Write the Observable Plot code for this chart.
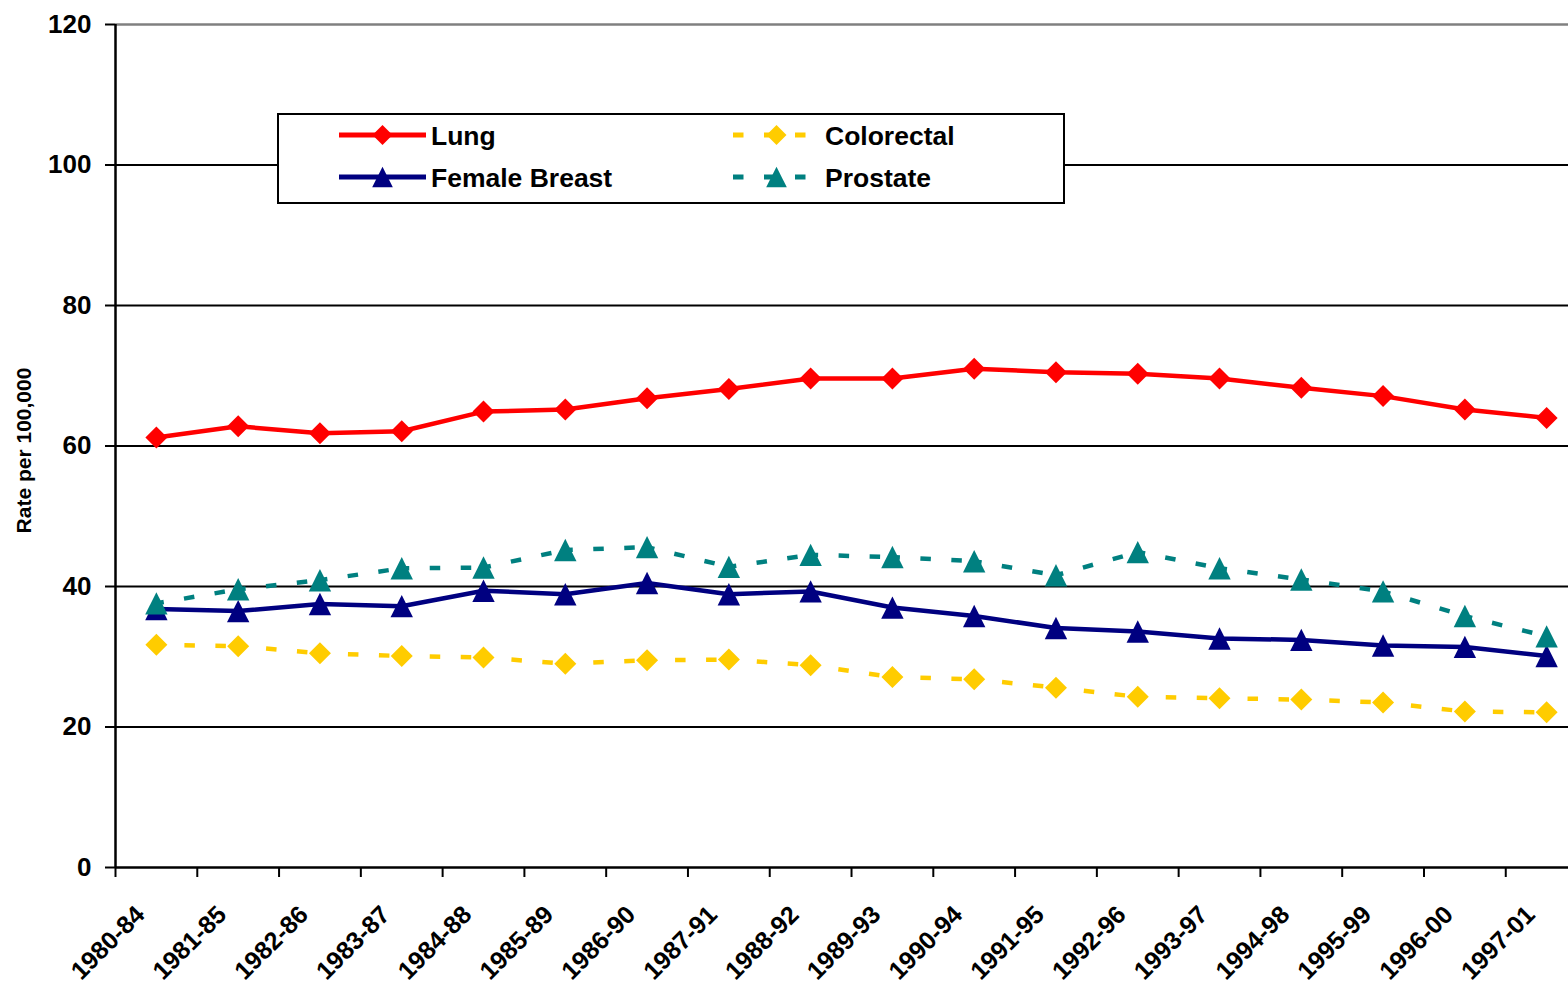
<!DOCTYPE html>
<html><head><meta charset="utf-8">
<script src="https://cdn.jsdelivr.net/npm/d3@7"></script>
<script src="https://cdn.jsdelivr.net/npm/@observablehq/plot@0.6"></script>
<style>
html,body{margin:0;padding:0;background:#fff;}
#wrap{position:relative;width:1568px;height:984px;overflow:hidden;font-family:"Liberation Sans",Arial,sans-serif;}
#wrap svg{overflow:hidden;}
#legend{position:absolute;left:277px;top:113px;}
</style></head><body><div id="wrap"></div>
<script>
const periods = ["1980-84","1981-85","1982-86","1983-87","1984-88","1985-89","1986-90","1987-91","1988-92","1989-93","1990-94","1991-95","1992-96","1993-97","1994-98","1995-99","1996-00","1997-01"];
const lung       = [61.2, 62.8, 61.8, 62.1, 64.9, 65.2, 66.8, 68.1, 69.6, 69.6, 71.0, 70.5, 70.3, 69.6, 68.3, 67.1, 65.2, 64.0];
const breast     = [36.8, 36.5, 37.5, 37.2, 39.4, 38.9, 40.5, 38.9, 39.3, 37.0, 35.8, 34.1, 33.6, 32.6, 32.4, 31.6, 31.4, 30.1];
const colorectal = [31.7, 31.5, 30.5, 30.1, 29.9, 29.0, 29.5, 29.6, 28.8, 27.1, 26.8, 25.6, 24.3, 24.1, 23.9, 23.5, 22.2, 22.1];
const prostate   = [37.6, 39.6, 40.9, 42.6, 42.7, 45.2, 45.6, 42.8, 44.5, 44.2, 43.6, 41.6, 44.9, 42.6, 41.0, 39.3, 35.8, 32.9];
const seriesNames  = ["Lung", "Female Breast", "Colorectal", "Prostate"];
const seriesColors = ["#FF0000", "#000080", "#FFCC00", "#008080"];
const seriesDashed = [false, false, true, true];
const seriesSymbol = ["diamond", "triangle", "diamond", "triangle"];
const yGrid = [20, 40, 60, 80, 100];
const yTicks = [0, 20, 40, 60, 80, 100, 120];
const yTitle = "Rate per 100,000";

const symbols = {
  diamond: {draw(ctx, size){const h=Math.sqrt(size/Math.PI); ctx.moveTo(0,-h); ctx.lineTo(h,0); ctx.lineTo(0,h); ctx.lineTo(-h,0); ctx.closePath();}},
  triangle: {draw(ctx, size){const h=Math.sqrt(size/Math.PI); ctx.moveTo(0,-h); ctx.lineTo(h,h); ctx.lineTo(-h,h); ctx.closePath();}}
};
const symR = {diamond: 11, triangle: 11.2};
const legR = {diamond: 10, triangle: 10.3};

const allValues = [lung, breast, colorectal, prostate];
const rows = allValues.map((vals, s) => vals.map((v, i) => ({series: seriesNames[s], i, x: i + 0.5, v})));
const segs = allValues.map((vals, s) => vals.slice(0, -1).map((v, i) => ({x1: i + 0.5, y1: v, x2: i + 1.5, y2: vals[i + 1]})));

const font = '"Liberation Sans", Arial, sans-serif';
const lineMarks = [];
const dotMarks = [];
seriesNames.forEach((name, s) => {
  if (seriesDashed[s]) {
    lineMarks.push(Plot.link(segs[s], {x1: "x1", y1: "y1", x2: "x2", y2: "y2", stroke: seriesColors[s], strokeWidth: 4.5, strokeDasharray: "10.5,20.5", strokeDashoffset: 3}));
  } else {
    lineMarks.push(Plot.line(rows[s], {x: "x", y: "v", stroke: seriesColors[s], strokeWidth: 4.5, strokeLinejoin: "round"}));
  }
  const sym = seriesSymbol[s];
  dotMarks.push(Plot.dot(rows[s], {x: "x", y: "v", symbol: symbols[sym], r: symR[sym], fill: seriesColors[s], stroke: "none"}));
});

const chart = Plot.plot({
  width: 1568, height: 984,
  marginTop: 24, marginBottom: 117, marginLeft: 115, marginRight: 0,
  style: {fontFamily: font, fontSize: "26px", fontWeight: "bold", background: "white", color: "black"},
  x: {type: "linear", domain: [0, periods.length], range: [115, 115 + 81.78 * periods.length]},
  y: {domain: [0, 120]},
  marks: [
    Plot.ruleY(yGrid, {stroke: "black", strokeWidth: 2}),
    Plot.ruleY([120], {stroke: "#808080", strokeWidth: 2.5}),
    Plot.axisY(yTicks, {tickSize: 10, tickPadding: 14, stroke: "black", strokeWidth: 2, fill: "black", fontSize: 26, fontWeight: "bold", label: null}),
    Plot.axisX(d3.range(periods.length + 1), {tickSize: 10, tickFormat: () => "", stroke: "black", strokeWidth: 2, label: null}),
    Plot.ruleY([0], {stroke: "black", strokeWidth: 2.5}),
    Plot.ruleX([0], {stroke: "black", strokeWidth: 2.5}),
    Plot.text(periods, {x: (d, i) => i + 0.5, frameAnchor: "bottom", text: d => d, rotate: -45, textAnchor: "end", lineAnchor: "middle", dx: -16, dy: 43, fontSize: 25, fontWeight: "bold", fill: "black"}),
    Plot.text([yTitle], {frameAnchor: "left", text: d => d, rotate: -90, textAnchor: "middle", lineAnchor: "middle", dx: -91, dy: 4.5, fontSize: 21, fontWeight: "bold", fill: "black"}),
    ...lineMarks,
    ...dotMarks
  ]
});
document.getElementById("wrap").appendChild(chart);

// Legend
const lw = 788, lh = 91;
const leg = d3.select("#wrap").append("svg").attr("id", "legend").attr("width", lw).attr("height", lh);
leg.append("rect").attr("x", 1).attr("y", 1).attr("width", lw - 2).attr("height", lh - 2).attr("fill", "white").attr("stroke", "black").attr("stroke-width", 2);
const pos = [{sx: 62, y: 22}, {sx: 62, y: 64}, {sx: 456, y: 22}, {sx: 456, y: 64}];
seriesNames.forEach((name, s) => {
  const p = pos[s];
  const g = leg.append("g");
  g.append("line").attr("x1", p.sx).attr("x2", p.sx + 87).attr("y1", p.y).attr("y2", p.y)
    .attr("stroke", seriesColors[s]).attr("stroke-width", 4.8)
    .attr("stroke-dasharray", seriesDashed[s] ? "10.5,20.5" : null);
  const sym = seriesSymbol[s];
  g.append("path").attr("transform", `translate(${p.sx + 43.5},${p.y})`)
    .attr("d", d3.symbol(symbols[sym], Math.PI * legR[sym] * legR[sym])())
    .attr("fill", seriesColors[s]);
  g.append("text").attr("x", p.sx + 92).attr("y", p.y).attr("dy", "0.36em")
    .attr("font-family", font).attr("font-size", 26.5).attr("font-weight", "bold").attr("fill", "black")
    .text(name);
});
</script>
</body></html>
